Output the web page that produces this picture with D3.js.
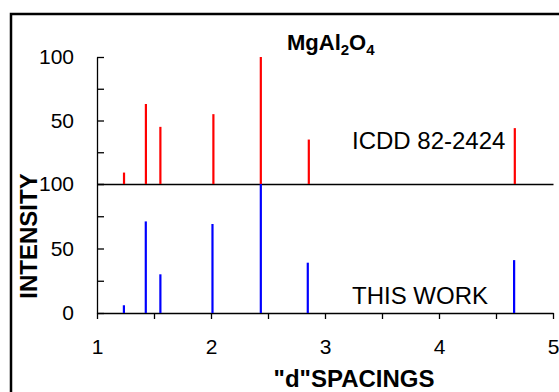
<!DOCTYPE html>
<html>
<head>
<meta charset="utf-8">
<script src="https://cdn.jsdelivr.net/npm/d3@7"></script>
<style>
  body { margin: 0; background: #fff; }
  svg { display: block; font-family: "Liberation Sans", Arial, sans-serif; }
  .axis path, .axis line { stroke: #000; stroke-width: 1.3; }
  .axis text { font-size: 21px; fill: #000; }
</style>
</head>
<body>
<svg id="chart" width="559" height="392"></svg>
<script>
// reference pattern (ICDD 82-2424) and measured pattern
const refD = [1.237, 1.429, 1.556, 2.021, 2.437, 2.858, 4.665];
const refI = [9, 63, 45, 55, 100, 35, 44];
const workD = [1.236, 1.428, 1.556, 2.013, 2.437, 2.849, 4.659];
const workI = [6, 71, 30, 69, 100, 39, 41];
const xTicks = [1, 1.5, 2, 2.5, 3, 3.5, 4, 4.5, 5];
const yTicks = [0, 25, 50, 75, 100];

const svg = d3.select('#chart');

// outer frame (runs off the right and bottom edges)
svg.append('rect')
  .attr('x', 11).attr('y', 14).attr('width', 620).attr('height', 420)
  .attr('fill', 'none').attr('stroke', '#000').attr('stroke-width', 2.5);

const x = d3.scaleLinear().domain([1, 5]).range([97, 553]);
const yTop = d3.scaleLinear().domain([0, 100]).range([184, 57]);
const yBot = d3.scaleLinear().domain([0, 100]).range([313, 184]);

// y axes, ticks pointing inward
svg.append('g').attr('class', 'axis')
  .attr('transform', 'translate(97,0)')
  .call(d3.axisLeft(yTop).tickValues(yTicks).tickSize(-7).tickSizeOuter(0).tickPadding(23)
    .tickFormat(d => (d === 50 || d === 100) ? d : ''));

svg.append('g').attr('class', 'axis')
  .attr('transform', 'translate(97,0)')
  .call(d3.axisLeft(yBot).tickValues(yTicks).tickSize(-7).tickSizeOuter(0).tickPadding(23)
    .tickFormat(d => d % 50 === 0 ? d : ''));

// separator line between the two patterns
svg.append('g').attr('class', 'axis')
  .attr('transform', `translate(0,${yTop(0)})`)
  .call(d3.axisBottom(x).tickValues([]).tickSizeOuter(0));

// x axis
svg.append('g').attr('class', 'axis')
  .attr('transform', `translate(0,${yBot(0)})`)
  .call(d3.axisBottom(x).tickValues(xTicks).tickSize(6).tickSizeOuter(0).tickPadding(20)
    .tickFormat(d => Number.isInteger(d) ? d : ''));

// stick lines
svg.append('g').selectAll('line')
  .data(refD.map((d, i) => ({ d, v: refI[i] })))
  .join('line')
  .attr('x1', p => x(p.d)).attr('x2', p => x(p.d))
  .attr('y1', yTop(0)).attr('y2', p => yTop(p.v))
  .attr('stroke', '#ff0000').attr('stroke-width', 2.2);

svg.append('g').selectAll('line')
  .data(workD.map((d, i) => ({ d, v: workI[i] })))
  .join('line')
  .attr('x1', p => x(p.d)).attr('x2', p => x(p.d))
  .attr('y1', yBot(0)).attr('y2', p => yBot(p.v))
  .attr('stroke', '#0000ff').attr('stroke-width', 2.2);

// labels
const title = svg.append('text')
  .attr('x', 287).attr('y', 50)
  .style('font-size', '22px').style('font-weight', 'bold');
title.append('tspan').text('MgAl');
title.append('tspan').attr('dy', 5).style('font-size', '15px').text('2');
title.append('tspan').attr('dy', -5).text('O');
title.append('tspan').attr('dy', 5).style('font-size', '15px').text('4');

svg.append('text').attr('x', 352).attr('y', 149)
  .style('font-size', '24px').text('ICDD 82-2424');
svg.append('text').attr('x', 352).attr('y', 304)
  .style('font-size', '24px').text('THIS WORK');

svg.append('text')
  .attr('x', 354).attr('y', 387).attr('text-anchor', 'middle')
  .style('font-size', '24px').style('font-weight', 'bold')
  .text('"d"SPACINGS');

svg.append('text')
  .attr('transform', 'translate(37,236) rotate(-90)')
  .attr('text-anchor', 'middle')
  .style('font-size', '24px').style('font-weight', 'bold')
  .text('INTENSITY');
</script>
</body>
</html>
